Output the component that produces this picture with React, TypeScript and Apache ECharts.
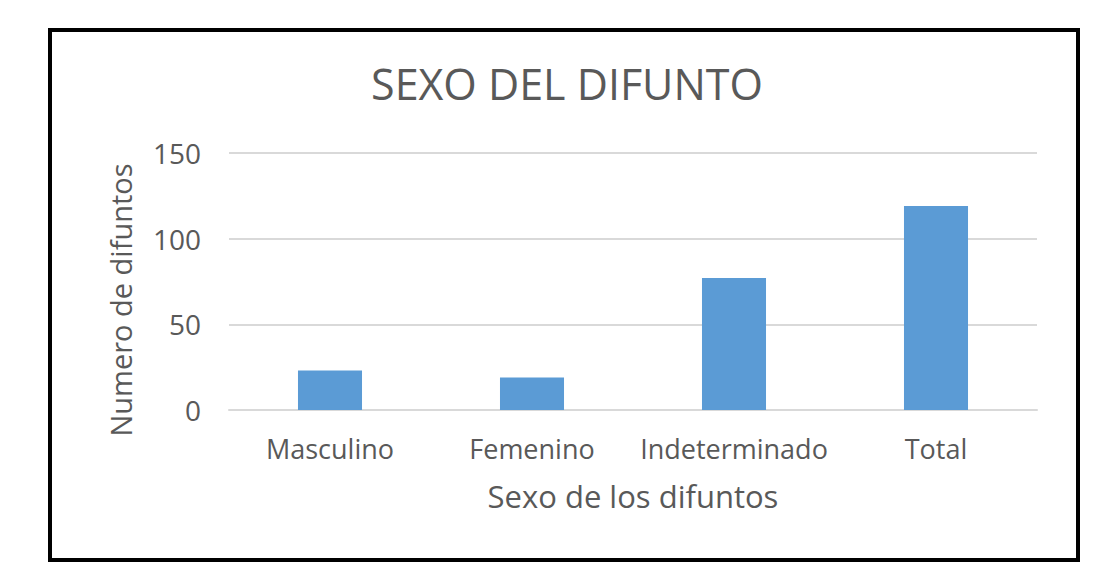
import React, { useEffect, useRef } from "react";
import * as echarts from "echarts";

const categories = ["Masculino", "Femenino", "Indeterminado", "Total"];
const values = [23, 19, 77, 119];
const yTicks = [0, 50, 100, 150];

const FONT = "'Open Sans', sans-serif";
const GRAY = "#595959";

export default function App() {
  const ref = useRef<HTMLDivElement>(null);
  useEffect(() => {
    if (!ref.current) return;
    const chart = echarts.init(ref.current, undefined, { renderer: "svg" });
    chart.setOption({
      animation: false,
      backgroundColor: "#ffffff",
      title: {
        text: "SEXO DEL DIFUNTO",
        left: 562,
        top: 57,
        textAlign: "center",
        textStyle: { fontFamily: FONT, fontSize: 43, fontWeight: "normal", color: GRAY },
      },
      grid: { left: 229, right: 82, top: 153, bottom: 166 },
      xAxis: {
        type: "category",
        data: categories,
        axisTick: { show: false },
        axisLine: { lineStyle: { color: "#D9D9D9", width: 2 } },
        axisLabel: { fontFamily: FONT, fontSize: 27, color: GRAY, margin: 25, interval: 0 },
        name: "Sexo de los difuntos",
        nameLocation: "middle",
        nameGap: 70,
        nameTextStyle: { fontFamily: FONT, fontSize: 31, color: GRAY },
      },
      yAxis: {
        type: "value",
        min: yTicks[0],
        max: yTicks[yTicks.length - 1],
        interval: yTicks[1] - yTicks[0],
        axisLine: { show: false },
        axisTick: { show: false },
        splitLine: { lineStyle: { color: "#D9D9D9", width: 2 } },
        axisLabel: { fontFamily: FONT, fontSize: 28, color: GRAY, margin: 28 },
      },
      graphic: [
        {
          type: "rect",
          shape: { x: 50, y: 30, width: 1028, height: 530 },
          style: { fill: "none", stroke: "#000", lineWidth: 4 },
          silent: true,
        },
        {
          type: "text",
          x: 120,
          y: 300,
          rotation: Math.PI / 2,
          style: {
            text: "Numero de difuntos",
            fontFamily: FONT,
            fontSize: 29,
            fill: GRAY,
            align: "center",
            verticalAlign: "middle",
          },
        },
      ],
      series: [
        {
          type: "bar",
          data: values,
          barWidth: "31.7%",
          itemStyle: { color: "#5B9BD5" },
        },
      ],
    });
    return () => chart.dispose();
  }, []);
  return (
    <div
      ref={ref}
      style={{ position: "fixed", left: 0, top: 0, width: 1119, height: 576 }}
    />
  );
}
